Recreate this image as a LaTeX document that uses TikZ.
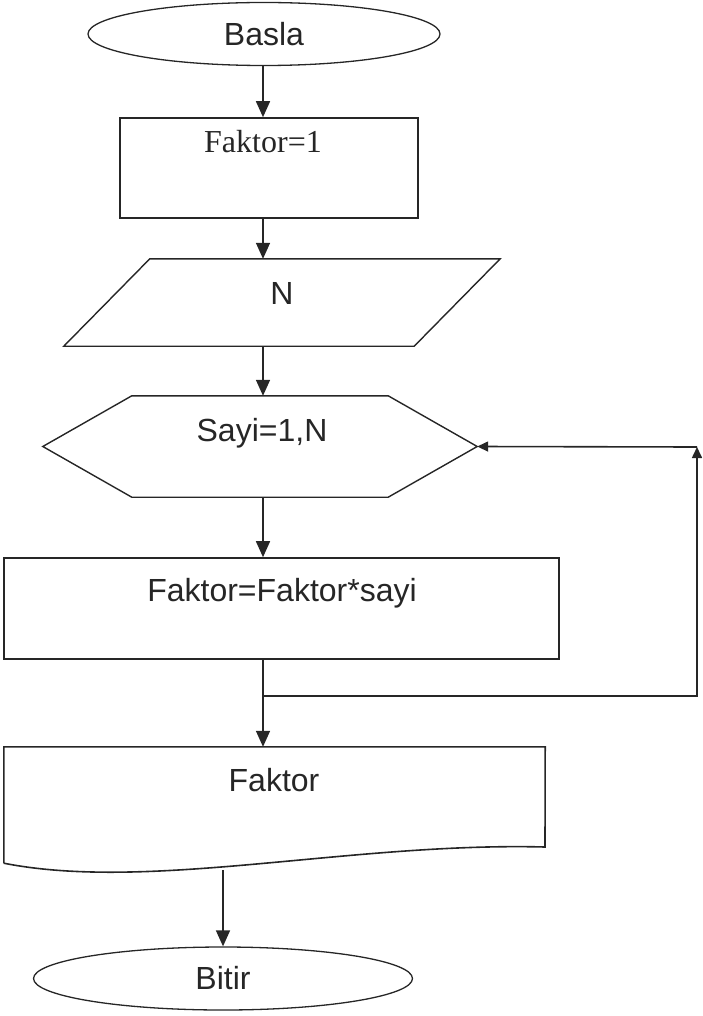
\documentclass[tikz,border=0pt]{standalone}
\usepackage{fontspec}
\setmainfont{Liberation Sans}
\newfontfamily\timesfont{Liberation Serif}
\usetikzlibrary{arrows.meta,positioning,shapes.geometric}

\begin{document}
\begin{tikzpicture}[
  x=1pt, y=1pt,
  >={Triangle[width=14pt,length=16pt]},
  font=\fontsize{32}{38}\selectfont,
  line/.style={line width=1.6pt, black!85},
  flow/.style={line, ->},
  loopline/.style={line, -{Triangle[width=10pt,length=11pt]}},
  term/.style={ellipse, draw=black!85, line width=1.3pt, inner sep=0pt, text=black!85},
  procbox/.style={rectangle, draw=black!85, line width=1.6pt, inner sep=0pt},
  frame/.style={rectangle, inner sep=0pt},
  outline/.style={draw=black!85, line width=1.4pt, line join=miter},
  txt/.style={inner sep=0pt, text=black!85}
]
\useasboundingbox (0,0) rectangle (702,-1016);

% Baslangic ve ilk atama
\node[term, minimum width=352pt, minimum height=63pt] (start) at (264,-34) {Basla};
\node[procbox, minimum width=298pt, minimum height=100pt] (init) at (269,-168) {};
\node[txt] (initlbl) at (263,-142) {\timesfont Faktor=1};

% N okunur
\node[frame, minimum width=436pt, minimum height=87pt] (read) at (282,-302.5) {};
\draw[outline] ([xshift=86pt]read.north west) -- (read.north east)
  -- ([xshift=-86pt]read.south east) -- (read.south west) -- cycle;
\node[txt] (readlbl) at (282,-293) {N};

% Dongu
\node[frame, minimum width=434pt, minimum height=101pt] (loop) at (260,-446.5) {};
\draw[outline] ([xshift=89pt]loop.north west) -- ([xshift=-89pt]loop.north east)
  -- (loop.east) -- ([xshift=-89pt]loop.south east)
  -- ([xshift=89pt]loop.south west) -- (loop.west) -- cycle;
\node[txt] (looplbl) at (262,-433) {Sayi=1,N};

\node[procbox, minimum width=555pt, minimum height=101pt] (body) at (281.5,-608.5) {};
\node[txt] (bodylbl) at (282,-593) {Faktor=Faktor*sayi};

% Sonuc yazdirilir
\node[frame, minimum width=541pt, minimum height=116pt] (out) at (274.5,-805) {};
\draw[line] (out.south west) -- (out.north west) -- (out.north east) -- (545,-847)
  .. controls (350,-842) and (150,-892) .. (out.south west);
\node[txt] (outlbl) at (274,-780) {Faktor};

\node[term, minimum width=379pt, minimum height=63pt] (end) at (223,-978.5) {Bitir};

% Baglantilar
\coordinate (axis) at (263,0);
\coordinate (split) at (263,-696);
\coordinate (corner) at (697,-447);
\coordinate (outb) at (223,-870);

\draw[flow] (axis |- start.south) -- (axis |- init.north);
\draw[flow] (axis |- init.south) -- (axis |- read.north);
\draw[flow] (axis |- read.south) -- (axis |- loop.north);
\draw[flow] (axis |- loop.south) -- (axis |- body.north);
\draw[line] (axis |- body.south) -- (split);
\draw[flow] (split) -- (axis |- out.north);
\draw[loopline] (split) -| (corner);
\draw[loopline] (corner) -- (loop.east);
\draw[flow] (outb) -- (end.north);

\end{tikzpicture}
\end{document}
